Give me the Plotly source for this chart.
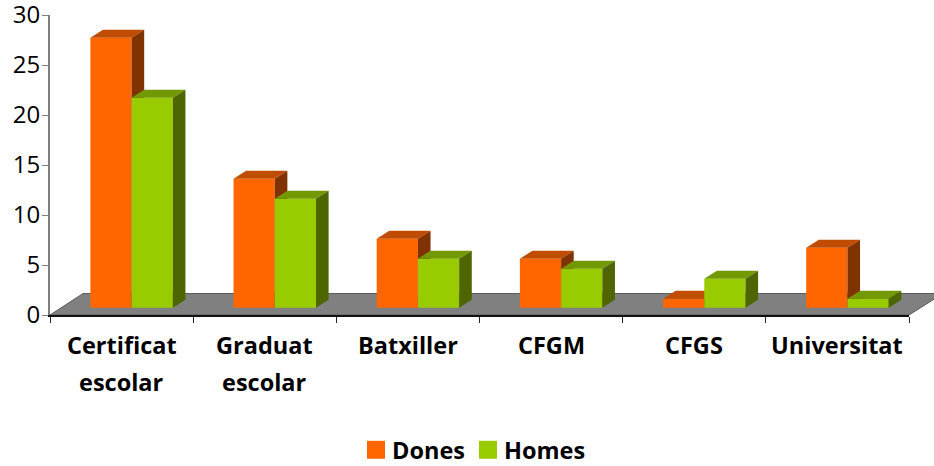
import plotly.graph_objects as go

categories = ["Certificat<br>escolar", "Graduat<br>escolar", "Batxiller", "CFGM", "CFGS", "Universitat"]
dones = [27, 12.9, 6.9, 4.9, 0.9, 6]
homes = [21, 10.9, 4.9, 3.9, 2.9, 0.9]
y_ticks = [0, 5, 10, 15, 20, 25, 30]

FONT = "Open Sans"
W, H = 934, 466
PW, PH = 859, 300.5         # plot size
PX0, PY0 = 50, 315          # page position of the axes' origin
L = PX0
T = PY0 - PH
R = W - L - PW
B = H - T - PH

BAR_W = 0.288
BASE = 0.73       # height of the bars' front base above the axis floor
DX, DY = 0.088, 0.8  # depth of each bar

positions = [i + 0.5 for i in range(len(categories))]


def faces(values, offset):
    top_x, top_y, side_x, side_y = [], [], [], []
    for p, v in zip(positions, values):
        x0 = p + offset
        x1 = x0 + BAR_W
        y1 = BASE + v
        top_x += [x0, x1, x1 + DX, x0 + DX, x0, None]
        top_y += [y1, y1, y1 + DY, y1 + DY, y1, None]
        side_x += [x1, x1 + DX, x1 + DX, x1, x1, None]
        side_y += [BASE, BASE + DY, y1 + DY, y1, BASE, None]
    return top_x, top_y, side_x, side_y


def series(name, values, offset, front, top, side, xa, ya):
    tx, ty, sx, sy = faces(values, offset)
    poly = dict(mode="lines", fill="toself", line=dict(width=0), hoverinfo="skip",
                showlegend=False, xaxis=xa, yaxis=ya)
    return [
        go.Scatter(x=tx, y=ty, fillcolor=top, **poly),
        go.Scatter(x=sx, y=sy, fillcolor=side, **poly),
        go.Bar(x=positions, y=values, base=BASE, width=BAR_W, offset=offset, name=name,
               marker=dict(color=front, line=dict(width=0)), showlegend=False,
               xaxis=xa, yaxis=ya),
    ]


fig = go.Figure()
fig.add_traces(series("Dones", dones, -0.218, "#FF6600", "#BF4C00", "#803300", "x", "y"))
fig.add_traces(series("Homes", homes, 0.07, "#99CC00", "#739900", "#4D6600", "x2", "y2"))


def px(x):
    return (x - PX0) / PW


def py(y):
    return (PY0 - y) / PH


shapes = [
    dict(type="path", xref="paper", yref="paper", layer="below",
         path=f"M {px(50)} {py(315)} L {px(83)} {py(293.5)} L {px(943)} {py(293.5)} L {px(909)} {py(315)} Z",
         fillcolor="#808080", line=dict(color="#5a5a5a", width=1)),
    dict(type="rect", xref="paper", yref="paper", x0=px(367), x1=px(385), y0=py(459), y1=py(441),
         fillcolor="#FF6600", line=dict(width=0)),
    dict(type="rect", xref="paper", yref="paper", x0=px(479), x1=px(497), y0=py(459), y1=py(441),
         fillcolor="#99CC00", line=dict(width=0)),
]

annotations = []
for p, c in zip(positions, categories):
    for j, line in enumerate(c.split("<br>")):
        annotations.append(dict(x=p, y=0, xref="x", yref="paper", text=f"<b>{line}</b>", showarrow=False,
                                yanchor="middle", yshift=-30 - 37 * j,
                                font=dict(family=FONT, size=23.5, color="#000")))
for name, left in (("Dones", 392), ("Homes", 504)):
    annotations.append(dict(x=px(left), y=py(450), xref="paper", yref="paper", xanchor="left", yanchor="middle",
                            xshift=-2, text=f"<b>{name}</b>", showarrow=False,
                            font=dict(family=FONT, size=23.5, color="#000")))

fig.update_layout(
    width=W, height=H, margin=dict(l=L, r=R, t=T, b=B, pad=0),
    paper_bgcolor="white", plot_bgcolor="rgba(0,0,0,0)",
    showlegend=False, barmode="overlay",
    shapes=shapes, annotations=annotations,
    xaxis=dict(range=[0, 6], tickvals=list(range(7)), ticktext=[""] * 7, ticks="outside", ticklen=6,
               tickwidth=1, tickcolor="#222", showline=True, linecolor="#111", linewidth=2, automargin=False,
               showgrid=False, zeroline=False, fixedrange=True),
    yaxis=dict(range=[0, 30], tickvals=y_ticks, ticks="outside", ticklen=6, tickwidth=1, tickcolor="#808080",
               showline=True, linecolor="#808080", linewidth=2, showgrid=False, zeroline=False, automargin=False,
               ticklabeloverflow="allow", ticklabelstandoff=-3,
               tickfont=dict(family=FONT, size=24, color="#000"), fixedrange=True),
    xaxis2=dict(range=[0, 6], overlaying="x", visible=False, fixedrange=True, automargin=False),
    yaxis2=dict(range=[0, 30], overlaying="y", visible=False, fixedrange=True, automargin=False),
)

fig.write_html("out.html", post_script="document.body.style.margin = '0';",
               config={"displayModeBar": False})
